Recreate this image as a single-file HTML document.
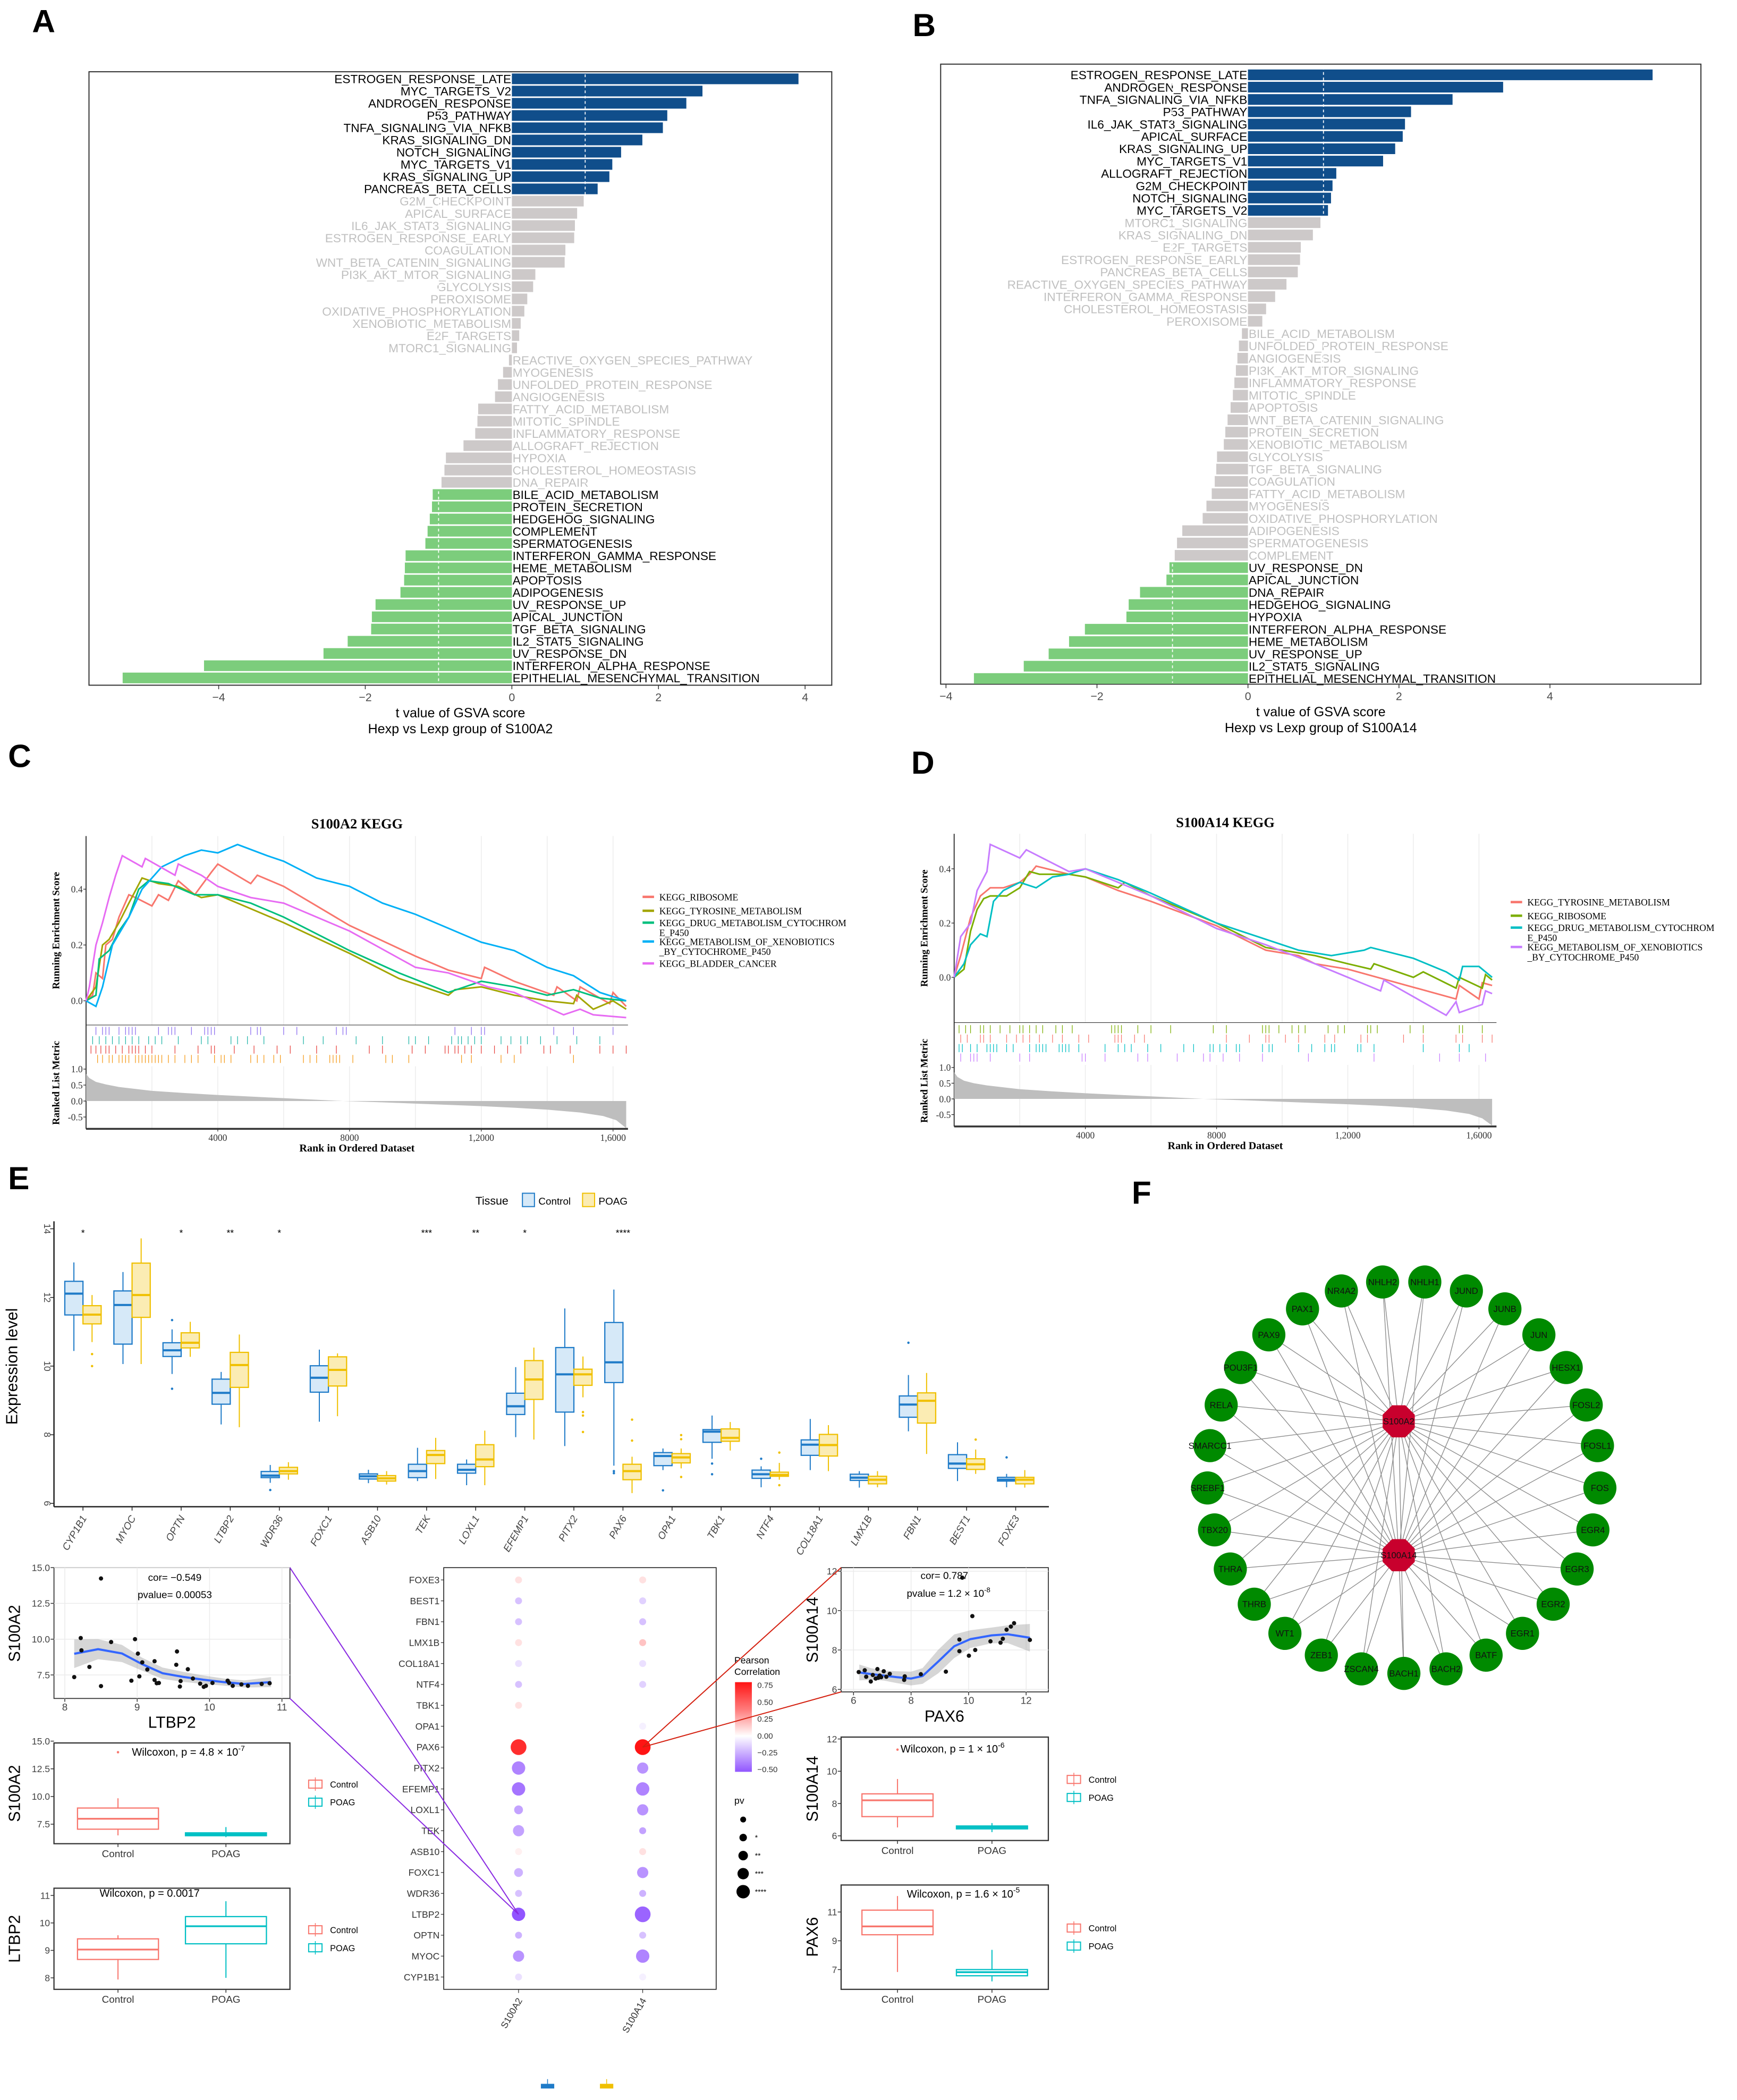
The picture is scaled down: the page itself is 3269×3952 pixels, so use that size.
<!DOCTYPE html>
<html><head><meta charset="utf-8"><title>Figure</title>
<style>
html,body{margin:0;padding:0;background:#fff;}
svg{display:block;}
text{font-family:"Liberation Sans",sans-serif;}
.serif{font-family:"Liberation Serif",serif;}
</style></head>
<body>
<svg id="fig" xmlns="http://www.w3.org/2000/svg" width="3269" height="3952" viewBox="0 0 1300 1571.6">
<rect x="0" y="0" width="1300" height="1571.6" fill="#fff"/>
</svg>
<script>
// ---------- DATA ----------
const aNames=["ESTROGEN_RESPONSE_LATE","MYC_TARGETS_V2","ANDROGEN_RESPONSE","P53_PATHWAY","TNFA_SIGNALING_VIA_NFKB","KRAS_SIGNALING_DN","NOTCH_SIGNALING","MYC_TARGETS_V1","KRAS_SIGNALING_UP","PANCREAS_BETA_CELLS","G2M_CHECKPOINT","APICAL_SURFACE","IL6_JAK_STAT3_SIGNALING","ESTROGEN_RESPONSE_EARLY","COAGULATION","WNT_BETA_CATENIN_SIGNALING","PI3K_AKT_MTOR_SIGNALING","GLYCOLYSIS","PEROXISOME","OXIDATIVE_PHOSPHORYLATION","XENOBIOTIC_METABOLISM","E2F_TARGETS","MTORC1_SIGNALING","REACTIVE_OXYGEN_SPECIES_PATHWAY","MYOGENESIS","UNFOLDED_PROTEIN_RESPONSE","ANGIOGENESIS","FATTY_ACID_METABOLISM","MITOTIC_SPINDLE","INFLAMMATORY_RESPONSE","ALLOGRAFT_REJECTION","HYPOXIA","CHOLESTEROL_HOMEOSTASIS","DNA_REPAIR","BILE_ACID_METABOLISM","PROTEIN_SECRETION","HEDGEHOG_SIGNALING","COMPLEMENT","SPERMATOGENESIS","INTERFERON_GAMMA_RESPONSE","HEME_METABOLISM","APOPTOSIS","ADIPOGENESIS","UV_RESPONSE_UP","APICAL_JUNCTION","TGF_BETA_SIGNALING","IL2_STAT5_SIGNALING","UV_RESPONSE_DN","INTERFERON_ALPHA_RESPONSE","EPITHELIAL_MESENCHYMAL_TRANSITION"];
const aVals=[3.91,2.6,2.38,2.12,2.06,1.78,1.49,1.37,1.33,1.17,0.98,0.89,0.86,0.85,0.73,0.72,0.32,0.29,0.21,0.17,0.12,0.1,0.07,-0.04,-0.12,-0.19,-0.23,-0.46,-0.47,-0.5,-0.66,-0.9,-0.92,-0.96,-1.08,-1.09,-1.12,-1.15,-1.18,-1.45,-1.46,-1.47,-1.52,-1.86,-1.91,-1.92,-2.24,-2.57,-4.2,-5.31];
const bNames=["ESTROGEN_RESPONSE_LATE","ANDROGEN_RESPONSE","TNFA_SIGNALING_VIA_NFKB","P53_PATHWAY","IL6_JAK_STAT3_SIGNALING","APICAL_SURFACE","KRAS_SIGNALING_UP","MYC_TARGETS_V1","ALLOGRAFT_REJECTION","G2M_CHECKPOINT","NOTCH_SIGNALING","MYC_TARGETS_V2","MTORC1_SIGNALING","KRAS_SIGNALING_DN","E2F_TARGETS","ESTROGEN_RESPONSE_EARLY","PANCREAS_BETA_CELLS","REACTIVE_OXYGEN_SPECIES_PATHWAY","INTERFERON_GAMMA_RESPONSE","CHOLESTEROL_HOMEOSTASIS","PEROXISOME","BILE_ACID_METABOLISM","UNFOLDED_PROTEIN_RESPONSE","ANGIOGENESIS","PI3K_AKT_MTOR_SIGNALING","INFLAMMATORY_RESPONSE","MITOTIC_SPINDLE","APOPTOSIS","WNT_BETA_CATENIN_SIGNALING","PROTEIN_SECRETION","XENOBIOTIC_METABOLISM","GLYCOLYSIS","TGF_BETA_SIGNALING","COAGULATION","FATTY_ACID_METABOLISM","MYOGENESIS","OXIDATIVE_PHOSPHORYLATION","ADIPOGENESIS","SPERMATOGENESIS","COMPLEMENT","UV_RESPONSE_DN","APICAL_JUNCTION","DNA_REPAIR","HEDGEHOG_SIGNALING","HYPOXIA","INTERFERON_ALPHA_RESPONSE","HEME_METABOLISM","UV_RESPONSE_UP","IL2_STAT5_SIGNALING","EPITHELIAL_MESENCHYMAL_TRANSITION"];
const bVals=[5.36,3.38,2.71,2.16,2.08,2.05,1.95,1.79,1.17,1.12,1.10,1.06,0.96,0.86,0.70,0.69,0.66,0.51,0.36,0.24,0.19,-0.08,-0.12,-0.14,-0.16,-0.18,-0.2,-0.23,-0.27,-0.3,-0.32,-0.41,-0.42,-0.44,-0.48,-0.55,-0.6,-0.87,-0.94,-0.97,-1.04,-1.08,-1.43,-1.58,-1.61,-2.16,-2.37,-2.64,-2.97,-3.63];
const gsvaTicks=[-4,-2,0,2,4];

// GSEA C (rank in thousands, ES)
const cRibosome=[[0,0],[0.2,0.02],[0.3,0.1],[0.5,0.08],[0.6,0.2],[0.8,0.22],[1.0,0.3],[1.3,0.38],[1.5,0.37],[2.0,0.34],[2.2,0.38],[2.5,0.36],[2.8,0.43],[3.3,0.38],[3.8,0.46],[4.0,0.49],[5.0,0.42],[5.2,0.45],[6.0,0.41],[7.0,0.34],[8.0,0.27],[10.0,0.16],[11.0,0.11],[12.0,0.08],[12.1,0.12],[13.0,0.07],[14.2,0.02],[14.3,0.05],[14.9,0.0],[15.0,0.05],[15.9,-0.01],[16.0,0.03],[16.4,-0.02]];
const cTyrosine=[[0,0],[0.3,0.05],[0.5,0.2],[0.7,0.22],[1.0,0.28],[1.3,0.35],[1.7,0.44],[2.2,0.42],[2.8,0.41],[3.5,0.37],[4.0,0.38],[5.0,0.33],[6.0,0.28],[8.0,0.17],[9.5,0.08],[11.0,0.02],[11.2,0.04],[12.0,0.05],[13.0,0.02],[14.0,0.0],[14.8,-0.01],[14.9,0.02],[15.4,-0.03],[16.0,0.0],[16.4,-0.03]];
const cDrug=[[0,0],[0.3,0.02],[0.4,0.15],[0.7,0.18],[1.0,0.25],[1.3,0.3],[1.6,0.4],[1.9,0.43],[2.5,0.42],[3.3,0.38],[4.0,0.38],[5.0,0.35],[6.0,0.3],[8.0,0.18],[9.5,0.1],[11.0,0.03],[12.0,0.07],[13.0,0.05],[14.0,0.02],[14.8,0.04],[15.6,0.01],[16.4,0.0]];
const cXeno=[[0,0],[0.3,-0.02],[0.5,0.05],[0.8,0.2],[1.3,0.3],[1.7,0.4],[2.3,0.48],[3.0,0.52],[3.5,0.54],[4.0,0.53],[4.6,0.56],[5.5,0.52],[6.0,0.5],[7.0,0.44],[8.0,0.41],[9.0,0.35],[10.0,0.31],[11.0,0.26],[12.0,0.21],[13.0,0.18],[14.0,0.12],[14.8,0.09],[15.6,0.03],[16.4,0.0]];
const cBladder=[[0,0],[0.1,0.05],[0.3,0.2],[0.5,0.28],[0.7,0.37],[0.9,0.45],[1.1,0.52],[1.7,0.48],[1.8,0.51],[2.7,0.45],[2.8,0.49],[3.5,0.45],[4.0,0.41],[5.0,0.37],[6.0,0.35],[8.0,0.25],[10.0,0.12],[11.0,0.1],[12.2,0.05],[13.0,0.03],[14.5,-0.05],[15.0,-0.03],[15.4,-0.05],[16.4,-0.06]];
const cRugBladder=[0.3,0.5,0.6,0.7,1.0,1.2,1.3,1.4,1.5,2.2,2.5,2.6,2.7,3.2,3.6,3.7,3.8,3.9,5.0,5.2,5.3,6.0,6.4,7.6,7.8,7.9,11.2,11.7,12.0,12.1,14.2,14.8,16.0];
const cRugXeno=[0.2,0.4,0.6,0.8,1.0,1.2,1.4,1.6,1.9,2.1,2.3,2.8,3.5,3.7,4.4,4.6,4.9,5.4,6.6,7.2,8.2,9.0,9.8,10.0,10.4,11.1,11.3,11.4,11.6,11.8,12.0,12.6,12.9,13.2,13.4,13.8,14.3,14.9,15.6];
const cRugRibo=[0.15,0.3,0.45,0.6,0.7,0.9,1.1,1.3,1.4,1.5,1.6,1.8,2.0,2.7,3.4,3.8,3.9,4.5,5.1,5.8,6.2,7.0,7.6,8.6,9.0,9.9,10.3,10.9,11.0,11.2,11.3,11.5,11.7,12.0,12.4,12.8,13.2,13.9,14.1,14.7,15.6,16.0,16.4];
const cRugTyro=[0.35,0.5,0.7,0.8,1.0,1.1,1.2,1.3,1.5,1.6,1.7,1.8,1.9,2.0,2.1,2.2,2.3,2.5,2.7,3.0,3.2,3.4,3.9,4.1,4.2,4.4,5.0,5.2,5.4,5.7,5.9,6.6,6.8,7.0,7.4,7.5,7.6,7.7,8.1,9.1,9.3,9.8,11.4,11.7,12.6,13.0,14.8];
const cMetric=[[0,0.85],[0.1,0.72],[0.3,0.6],[0.6,0.52],[1,0.44],[2,0.32],[3,0.25],[4,0.19],[5,0.14],[6,0.09],[7,0.04],[7.8,0],[9,-0.04],[10,-0.08],[11,-0.12],[12,-0.16],[13,-0.21],[14,-0.27],[15,-0.36],[15.7,-0.47],[16.1,-0.6],[16.4,-0.85]];
// GSEA D
const dTyrosine=[[0,0],[0.2,0.08],[0.5,0.22],[0.8,0.3],[1.1,0.33],[1.5,0.33],[2.0,0.35],[2.3,0.38],[2.5,0.41],[3.5,0.38],[4.0,0.37],[5.0,0.32],[6.0,0.28],[8.0,0.19],[9.5,0.1],[10.5,0.08],[11.0,0.05],[12.0,0.03],[13.5,-0.02],[15.3,-0.08],[15.4,-0.03],[16.0,-0.08],[16.1,-0.02],[16.4,-0.03]];
const dRibosome=[[0,0],[0.3,0.03],[0.5,0.17],[0.7,0.25],[0.9,0.29],[1.1,0.3],[1.6,0.3],[2.0,0.33],[2.3,0.39],[2.6,0.38],[3.5,0.38],[4.0,0.37],[5.0,0.33],[5.2,0.35],[6.0,0.3],[8.0,0.2],[9.5,0.11],[11.0,0.08],[12.0,0.05],[12.7,0.03],[12.8,0.05],[14.0,0.0],[14.3,0.02],[15.3,-0.04],[15.4,0.0],[16.1,-0.04],[16.2,0.01],[16.4,-0.01]];
const dDrug=[[0,0],[0.3,0.05],[0.5,0.12],[0.8,0.16],[1.0,0.15],[1.2,0.28],[1.5,0.32],[2.0,0.35],[2.5,0.33],[3.0,0.37],[3.5,0.38],[4.0,0.4],[5.0,0.36],[6.0,0.31],[8.0,0.2],[9.5,0.14],[10.5,0.1],[11.5,0.08],[12.5,0.1],[12.7,0.11],[14.0,0.07],[15.0,0.02],[15.4,-0.01],[15.5,0.04],[16.0,0.04],[16.4,0.0]];
const dXeno=[[0,0],[0.2,0.15],[0.5,0.2],[0.7,0.32],[1.0,0.39],[1.1,0.49],[2.0,0.44],[2.2,0.47],[3.5,0.39],[4.0,0.4],[5.0,0.35],[6.0,0.3],[8.0,0.18],[9.5,0.12],[11.0,0.05],[13.0,-0.05],[13.1,-0.01],[15.0,-0.14],[15.3,-0.09],[15.4,-0.13],[16.1,-0.1],[16.2,-0.05],[16.4,-0.06]];
const dRugRibo=[0.15,0.35,0.5,0.8,0.9,1.1,1.4,1.7,2.0,2.1,2.3,2.5,2.7,3.1,3.3,3.6,4.8,4.9,5.0,5.1,5.6,6.0,6.6,7.9,8.3,9.4,9.5,9.6,9.9,10.3,10.5,10.7,11.4,11.7,11.9,12.6,12.7,12.9,13.9,14.3,15.4,15.5,16.1];
const dRugTyro=[0.2,0.4,0.8,0.9,1.1,1.6,1.9,2.1,2.3,2.6,3.0,3.3,3.8,4.1,4.9,5.0,5.1,5.5,5.8,8.3,9.0,9.5,9.6,10.1,10.5,11.3,11.6,12.4,12.6,13.7,14.3,15.3,15.5,16.1,16.4];
const dRugDrug=[0.15,0.25,0.5,0.7,1.0,1.1,1.2,1.3,1.6,1.8,2.3,2.5,2.6,2.7,2.8,3.2,3.3,3.4,3.5,3.8,4.6,5.0,5.2,5.4,5.9,6.3,7.0,7.3,7.8,7.9,8.1,8.3,8.6,8.7,9.4,9.6,9.7,10.5,10.9,11.3,11.5,11.6,12.3,12.4,12.8,14.3,15.4,15.7];
const dRugXeno=[0.2,0.5,0.6,0.7,1.1,2.0,2.3,3.9,4.0,4.6,5.6,5.9,6.8,7.6,7.8,8.2,8.7,9.4,10.8,12.8,14.8,15.4,16.2];
const dMetric=[[0,0.85],[0.1,0.7],[0.3,0.58],[0.6,0.5],[1,0.43],[2,0.31],[3,0.24],[4,0.18],[5,0.13],[6,0.08],[7,0.03],[7.6,0],[9,-0.05],[10,-0.09],[11,-0.13],[12,-0.17],[13,-0.22],[14,-0.28],[15,-0.37],[15.7,-0.48],[16.1,-0.62],[16.4,-0.85]];
const rankTicks=[4,8,12,16];
const rankTickLabels=["4000","8000","1,2000","1,6000"];

// E boxplots [low, q1, median, q3, high]
const eGenes=["CYP1B1","MYOC","OPTN","LTBP2","WDR36","FOXC1","ASB10","TEK","LOXL1","EFEMP1","PITX2","PAX6","OPA1","TBK1","NTF4","COL18A1","LMX1B","FBN1","BEST1","FOXE3"];
const eCtrl=[[10.44,11.49,12.11,12.47,13.02],[10.06,10.64,11.78,12.19,12.74],[9.77,10.28,10.46,10.68,11.07],[8.3,8.89,9.22,9.62,9.83],[6.6,6.75,6.81,6.93,7.12],[8.38,9.24,9.66,10.01,10.48],[6.59,6.71,6.79,6.86,6.98],[6.65,6.75,6.94,7.14,7.62],[6.53,6.88,6.98,7.14,7.28],[7.93,8.59,8.83,9.21,9.97],[7.67,8.66,9.76,10.54,11.68],[7.1,9.52,10.11,11.27,12.23],[6.97,7.1,7.38,7.48,7.6],[7.3,7.78,8.09,8.15,8.56],[6.47,6.73,6.85,6.97,7.08],[6.97,7.4,7.71,7.85,8.46],[6.46,6.67,6.75,6.85,6.94],[8.1,8.51,8.88,9.13,9.74],[6.65,7.02,7.16,7.42,7.78],[6.47,6.65,6.69,6.76,6.86]];
const ePoag=[[10.7,11.23,11.5,11.76,12.07],[10.06,11.42,12.07,13.0,13.72],[10.27,10.53,10.68,10.97,11.29],[8.22,9.38,10.03,10.4,10.92],[6.69,6.86,6.94,7.05,7.2],[8.54,9.42,9.89,10.27,10.37],[6.55,6.65,6.73,6.81,6.94],[6.71,7.16,7.41,7.54,7.91],[6.53,7.07,7.28,7.71,8.12],[7.86,9.03,9.61,10.16,10.54],[9.09,9.44,9.76,9.91,10.28],[6.3,6.69,6.94,7.14,7.36],[7.02,7.18,7.34,7.45,7.6],[7.54,7.81,7.91,8.17,8.37],[6.69,6.79,6.83,6.91,7.18],[6.94,7.38,7.7,8.01,8.28],[6.47,6.57,6.69,6.79,6.94],[7.44,8.34,8.99,9.22,9.8],[6.86,6.99,7.14,7.3,7.57],[6.46,6.57,6.69,6.76,6.97]];
const eCtrlOut=[[],[],[11.34,9.34],[],[6.39],[],[],[],[],[],[],[6.94,6.88],[6.38],[7.16,6.85],[7.3],[],[],[10.68],[],[7.34]];
const ePoagOut=[[10.35,10.0],[],[],[],[],[],[],[],[],[],[8.66,8.56,8.08],[8.44,7.83],[7.99,7.87,6.77],[],[7.48,6.53],[],[],[],[7.86],[]];
const eStars=["*","","*","**","*","","","***","**","*","","****","","","","","","","",""];
const eTicks=[6,8,10,12,14];

// scatter S100A2 ~ LTBP2
const ltbp2X=[8.5,8.13,8.22,8.23,8.34,8.5,8.64,8.92,8.97,9.01,9.03,9.07,9.14,9.24,9.24,9.27,9.3,9.55,9.54,9.59,9.6,9.7,9.77,9.87,9.92,9.95,10.04,10.25,10.27,10.32,10.44,10.53,10.72,10.83];
const s100a2Y=[14.24,7.35,10.08,9.22,8.06,6.72,9.8,7.1,10.0,8.99,7.4,8.38,7.88,8.46,7.15,6.92,6.94,9.14,8.21,6.69,7.07,7.9,7.25,6.89,6.67,6.74,6.94,7.1,6.94,6.74,6.84,6.74,6.87,6.92];
const fitAX=[8.13,8.46,8.79,9.07,9.35,9.63,9.91,10.2,10.48,10.85];
const fitAY=[8.98,9.3,9.0,8.25,7.62,7.37,7.17,7.0,6.87,7.0];
const fitASE=[1.0,0.7,0.6,0.45,0.4,0.35,0.3,0.25,0.25,0.35];
// scatter S100A14 ~ PAX6
const pax6X=[6.18,6.39,6.44,6.6,6.67,6.77,6.83,6.86,6.91,6.96,7.05,7.14,7.26,7.76,7.78,8.34,9.21,9.68,9.68,9.78,10.01,10.13,10.23,10.76,11.11,11.19,11.32,11.47,11.58,12.13];
const s100a14Y=[6.88,6.97,6.64,6.4,6.73,6.55,7.03,6.59,6.7,6.62,6.92,6.64,6.79,6.48,6.66,6.77,6.9,8.53,7.94,11.67,7.71,9.72,8.0,8.44,8.37,8.57,9.03,9.19,9.36,8.51];
const fitBX=[6.2,6.6,7.05,7.5,8.0,8.4,8.95,9.5,10.06,10.8,11.36,12.13];
const fitBY=[6.86,6.78,6.7,6.62,6.55,6.68,7.42,8.19,8.55,8.74,8.8,8.62];
const fitBSE=[0.4,0.3,0.25,0.3,0.35,0.4,0.6,0.6,0.45,0.4,0.45,0.7];
// wilcoxon boxes [low,q1,med,q3,high]
const bxS100A2=[[6.49,7.05,7.99,8.96,9.84],[6.33,6.46,6.59,6.72,7.24]];
const bxLTBP2=[[7.94,8.67,9.03,9.42,9.55],[8.0,9.24,9.88,10.23,10.79]];
const bxS100A14=[[6.52,7.19,8.2,8.6,9.52],[6.23,6.43,6.52,6.61,6.79]];
const bxPAX6=[[6.83,9.42,10.0,11.13,12.11],[6.18,6.57,6.82,7.0,8.37]];
// dot plot correlation
const dotGenes=["FOXE3","BEST1","FBN1","LMX1B","COL18A1","NTF4","TBK1","OPA1","PAX6","PITX2","EFEMP1","LOXL1","TEK","ASB10","FOXC1","WDR36","LTBP2","OPTN","MYOC","CYP1B1"];
const corA2=[0.1,-0.2,-0.2,0.1,-0.1,-0.2,0.1,0.0,0.7,-0.4,-0.45,-0.3,-0.3,0.05,-0.25,-0.2,-0.55,-0.25,-0.35,-0.1];
const pvA2=[0,0,0,0,0,0,0,0,4,3,3,1,2,0,1,0,3,0,2,0];
const corA14=[0.1,-0.15,-0.2,0.2,-0.1,-0.15,0.0,-0.05,0.787,-0.35,-0.4,-0.35,-0.3,0.1,-0.35,-0.25,-0.5,-0.2,-0.4,-0.05];
const pvA14=[0,0,0,0,0,0,0,0,4,2,3,2,0,0,2,0,4,0,3,0];
// network
const tfNames=["NHLH2","NHLH1","JUND","JUNB","JUN","HESX1","FOSL2","FOSL1","FOS","EGR4","EGR3","EGR2","EGR1","BATF","BACH2","BACH1","ZSCAN4","ZEB1","WT1","THRB","THRA","TBX20","SREBF1","SMARCC1","RELA","POU3F1","PAX9","PAX1","NR4A2"];

// ---------- HELPERS ----------
const NS="http://www.w3.org/2000/svg";
const svg=document.getElementById("fig");
function mk(parent,tag,attrs,name,text){
  const el=document.createElementNS(NS,tag);
  for(const k in attrs) el.setAttribute(k,attrs[k]);
  
  
  if(text!==undefined) el.textContent=text;
  parent.appendChild(el);
  return el;
}
function grp(name,parent){return mk(parent||svg,"g",{},name);}
function txt(p,x,y,s,size,name,o){
  o=o||{};
  const a={x:x,y:y,"font-size":size,fill:o.fill||"#000","text-anchor":o.anchor||"start"};
  if(o.weight)a["font-weight"]=o.weight;
  if(o.cls)a["class"]=o.cls;
  if(o.rot!==undefined)a.transform="rotate("+o.rot+" "+x+" "+y+")";
  if(o.style)a.style=o.style;
  return mk(p,"text",a,name,s);
}
function line(p,x1,y1,x2,y2,stroke,w,name,dash){
  const a={x1:x1,y1:y1,x2:x2,y2:y2,stroke:stroke,"stroke-width":w};
  if(dash)a["stroke-dasharray"]=dash;
  return mk(p,"line",a,name);
}
function sup(p,x,y,base,exp,size,name,anchor){
  const t=txt(p,x,y,"",size,name,{anchor:anchor||"middle"});
  const s1=document.createElementNS(NS,"tspan");s1.textContent=base;t.appendChild(s1);
  const s2=document.createElementNS(NS,"tspan");s2.textContent=exp;s2.setAttribute("dy",-size*0.45);s2.setAttribute("font-size",size*0.7);t.appendChild(s2);
  return t;
}

// panel letters
[["A",32,24],["B",691,27],["C",14,574],["D",690,579],["E",14,890],["F",855,901]].forEach(l=>{
  txt(svg,l[1]-8,l[2],l[0],24,"panel-label-"+l[0].toLowerCase(),{weight:"bold"});
});

// ---------- GSVA bar panels ----------
function gsva(name,names,vals,box,x0,kx,r0,rstep,titleLines){
  const g=grp(name);
  const xs=v=>x0+v*kx;
  mk(g,"rect",{x:box[0],y:box[1],width:box[2]-box[0],height:box[3]-box[1],fill:"#fff",stroke:"#333","stroke-width":0.8},"plot-border");
  names.forEach((n,i)=>{
    const v=vals[i], y=r0+i*rstep;
    const col=v>1?"#104e8b":(v<-1?"#7ccd7c":"#cdc9c9");
    const x1=Math.min(xs(0),xs(v)), w=Math.abs(xs(v)-xs(0));
    mk(g,"rect",{x:x1,y:y-4,width:w,height:8,fill:col},"bar-"+n.toLowerCase().replace(/_/g,"-"));
    const tc=(v>1||v<-1)?"#000":"#c0c0c0";
    if(v>=0) txt(g,xs(0)-0.5,y+3.3,n,9,"bar-label",{anchor:"end",fill:tc});
    else txt(g,xs(0)+0.5,y+3.3,n,9,"bar-label",{fill:tc});
  });
  line(g,xs(1),box[1]+2,xs(1),box[3]-1,"#fff",0.7,"threshold-line-pos","2,2");
  line(g,xs(-1),box[1]+2,xs(-1),box[3]-1,"#fff",0.7,"threshold-line-neg","2,2");
  gsvaTicks.forEach(t=>{
    line(g,xs(t),box[3],xs(t),box[3]+3,"#333",0.6,"x-tick");
    txt(g,xs(t),box[3]+12,t<0?"\u2212"+(-t):String(t),8.5,"x-tick-label",{anchor:"middle",fill:"#4d4d4d"});
  });
  txt(g,(box[0]+box[2])/2,box[3]+24,titleLines[0],10,"x-axis-title",{anchor:"middle"});
  txt(g,(box[0]+box[2])/2,box[3]+36,titleLines[1],10,"x-axis-subtitle",{anchor:"middle"});
}
gsva("panel-a-gsva",aNames,aVals,[66.6,53.7,622.5,512.8],383.1,54.86,59,9.15,["t value of GSVA score","Hexp vs Lexp group of S100A2"]);
gsva("panel-b-gsva",bNames,bVals,[704,48,1273,512],934,56.5,56,9.22,["t value of GSVA score","Hexp vs Lexp group of S100A14"]);

// ---------- GSEA panels ----------
function gsea(name,P,curves,cols,labels,rugs,rugCols,metric){
  const g=grp(name);
  const xs=r=>P.x0+r*P.kx, ys=e=>P.y0-e*P.ky, ym=m=>P.mZero-m*P.mk;
  txt(g,(P.x0+P.right)/2,P.titleY,P.title,10.5,"chart-title",{anchor:"middle",weight:"bold",cls:"serif"});
  for(let r=2;r<=16;r+=2){
    line(g,xs(r),P.top,xs(r),P.esBot,"#ececec",0.6,"grid-line");
    line(g,xs(r),P.mTop,xs(r),P.mBot,"#ececec",0.6,"grid-line");
  }
  line(g,P.x0,P.top,P.x0,P.mBot,"#222",0.7,"y-axis-line");
  line(g,P.x0,P.esBot,P.right,P.esBot,"#222",0.4,"es-panel-bottom");
  [0,0.2,0.4].forEach(t=>{
    line(g,P.x0-2,ys(t),P.x0,ys(t),"#222",0.5,"y-tick");
    txt(g,P.x0-2.5,ys(t)+2.5,t.toFixed(1),7,"y-tick-label",{anchor:"end",cls:"serif",fill:"#333"});
  });
  curves.forEach((c,k)=>{
    const pts=c.map(p=>xs(p[0]).toFixed(2)+","+ys(p[1]).toFixed(2)).join(" ");
    mk(g,"polyline",{points:pts,fill:"none",stroke:cols[k],"stroke-width":1.2},"es-curve-"+k);
  });
  const bandH=(P.rugBot-P.rugTop)/rugs.length;
  rugs.forEach((rg,k)=>{
    rg.forEach(r=>line(g,xs(r),P.rugTop+k*bandH+0.5,xs(r),P.rugTop+(k+1)*bandH-0.5,rugCols[k],0.5,"rug-tick"));
  });
  let poly=xs(metric[0][0])+","+ym(0)+" ";
  poly+=metric.map(p=>xs(p[0]).toFixed(2)+","+ym(p[1]).toFixed(2)).join(" ");
  poly+=" "+xs(metric[metric.length-1][0])+","+ym(0);
  mk(g,"polygon",{points:poly,fill:"#bebebe"},"ranked-metric-area");
  [1.0,0.5,0.0,-0.5].forEach(t=>{
    line(g,P.x0-2,ym(t),P.x0,ym(t),"#222",0.5,"metric-tick");
    txt(g,P.x0-2.5,ym(t)+2.5,t.toFixed(1),7,"metric-tick-label",{anchor:"end",cls:"serif",fill:"#333"});
  });
  line(g,P.x0,P.mBot,P.right,P.mBot,"#333",1.4,"x-axis-line");
  rankTicks.forEach((r,i)=>{
    line(g,xs(r),P.mBot,xs(r),P.mBot+2,"#333",0.5,"x-tick");
    txt(g,xs(r),P.mBot+9,rankTickLabels[i],7,"x-tick-label",{anchor:"middle",cls:"serif",fill:"#333"});
  });
  txt(g,(P.x0+P.right)/2,P.mBot+17,"Rank in Ordered Dataset",8,"x-axis-title",{anchor:"middle",weight:"bold",cls:"serif"});
  txt(g,P.x0-20,(P.top+P.esBot)/2,"Running Enrichment Score",7.5,"y-axis-title",{anchor:"middle",weight:"bold",cls:"serif",rot:-90});
  txt(g,P.x0-20,(P.rugTop+P.mBot)/2+4,"Ranked List Metric",7.5,"metric-axis-title",{anchor:"middle",weight:"bold",cls:"serif",rot:-90});
  labels.forEach((L,k)=>{
    mk(g,"rect",{x:P.lx,y:L[1]-1,width:8.6,height:1.8,fill:cols[k]},"legend-key");
    txt(g,P.lx+12.5,L[1]+2.5,L[0][0],7,"legend-entry",{cls:"serif"});
    if(L[0][1]) txt(g,P.lx+12.5,L[1]+10,L[0][1],7,"legend-entry",{cls:"serif"});
  });
}
gsea("panel-c-gsea",{x0:64.4,kx:24.65,right:470,top:625.7,esBot:767.1,y0:749,ky:208.9,rugTop:768,rugBot:796,mTop:798,mBot:844.8,mZero:824,mk:23.9,titleY:620,title:"S100A2 KEGG",lx:480.9},
  [cRibosome,cTyrosine,cDrug,cXeno,cBladder],["#f8766d","#a3a500","#00bf7d","#00b0f6","#e76bf3"],
  [[["KEGG_RIBOSOME"],671.3],[["KEGG_TYROSINE_METABOLISM"],681.7],[["KEGG_DRUG_METABOLISM_CYTOCHROM","E_P450"],690.6],[["KEGG_METABOLISM_OF_XENOBIOTICS","_BY_CYTOCHROME_P450"],704.7],[["KEGG_BLADDER_CANCER"],721.1]],
  [cRugBladder,cRugXeno,cRugRibo,cRugTyro],["#8b6cf0","#20b5a8","#e8413c","#f59a17"],cMetric);
gsea("panel-d-gsea",{x0:714.1,kx:24.55,right:1120,top:624,esBot:765.3,y0:731.4,ky:203,rugTop:766.7,rugBot:795,mTop:797,mBot:843,mZero:822.4,mk:23.5,titleY:619,title:"S100A14 KEGG",lx:1130.6},
  [dTyrosine,dRibosome,dDrug,dXeno],["#f8766d","#7cae00","#00bfc4","#c77cff"],
  [[["KEGG_TYROSINE_METABOLISM"],675.2],[["KEGG_RIBOSOME"],685.4],[["KEGG_DRUG_METABOLISM_CYTOCHROM","E_P450"],694.3],[["KEGG_METABOLISM_OF_XENOBIOTICS","_BY_CYTOCHROME_P450"],708.8]],
  [dRugRibo,dRugTyro,dRugDrug,dRugXeno],["#7cae00","#f8766d","#00bfc4","#c77cff"],dMetric);

// ---------- E top boxplot ----------
(function(){
  const g=grp("panel-e-expression-boxplot");
  const yE=v=>919.6+(14-v)*25.69, xE=i=>62.1+i*36.74, bw=13.6;
  txt(g,355.8,901.5,"Tissue",8.5,"legend-title");
  mk(g,"rect",{x:391,y:893,width:9,height:10,fill:"#d6e9f8",stroke:"#1f7bc8","stroke-width":0.8},"legend-key-control");
  txt(g,403,901.5,"Control",7.5,"legend-entry-control");
  mk(g,"rect",{x:436,y:893,width:9,height:10,fill:"#fbecb3",stroke:"#f0c000","stroke-width":0.8},"legend-key-poag");
  txt(g,448,901.5,"POAG",7.5,"legend-entry-poag");
  line(g,40.4,914,40.4,1127.6,"#222",1,"y-axis-line");
  line(g,40.4,1127.6,785,1127.6,"#222",1,"x-axis-line");
  eTicks.forEach(t=>{
    line(g,37.5,yE(t),40.4,yE(t),"#222",0.6,"y-tick");
    txt(g,33,yE(t),String(t),7,"y-tick-label",{anchor:"middle",rot:90,fill:"#444"});
  });
  txt(g,13,1022.6,"Expression level",12,"y-axis-title",{anchor:"middle",rot:-90});
  function box(s,x,stroke,fill,name){
    line(g,x+bw/2,yE(s[4]),x+bw/2,yE(s[3]),stroke,0.8,name+"-whisker");
    line(g,x+bw/2,yE(s[1]),x+bw/2,yE(s[0]),stroke,0.8,name+"-whisker");
    mk(g,"rect",{x:x,y:yE(s[3]),width:bw,height:yE(s[1])-yE(s[3]),fill:fill,stroke:stroke,"stroke-width":0.9},name+"-box");
    line(g,x,yE(s[2]),x+bw,yE(s[2]),stroke,1.6,name+"-median");
  }
  eGenes.forEach((gn,i)=>{
    const c=xE(i);
    box(eCtrl[i],c-bw,"#1f7bc8","#d6e9f8","box-control-"+gn.toLowerCase());
    box(ePoag[i],c,"#f0c000","#fbecb3","box-poag-"+gn.toLowerCase());
    eCtrlOut[i].forEach(v=>mk(g,"circle",{cx:c-bw/2,cy:yE(v),r:0.9,fill:"#1f7bc8"},"outlier"));
    ePoagOut[i].forEach(v=>mk(g,"circle",{cx:c+bw/2,cy:yE(v),r:0.9,fill:"#f0c000"},"outlier"));
    if(eStars[i]) txt(g,c,925,eStars[i],7,"significance-stars",{anchor:"middle"});
    line(g,c,1127.6,c,1130.5,"#222",0.6,"x-tick");
    txt(g,c+3,1136,gn,7.5,"x-tick-label",{anchor:"end",rot:-60,fill:"#444",style:"font-style:italic"});
  });
})();

// ---------- E scatter S100A2 vs LTBP2 ----------
function scatter(name,B,xr,yr,xt,yt,xs,ys,fx,fy,fse,texts,xlab,ylab){
  const g=grp(name);
  const X=v=>B.x0+(v-xr[0])*B.kx, Y=v=>B.y0-(v-yr[0])*B.ky;
  mk(g,"rect",{x:B.l,y:B.t,width:B.r-B.l,height:B.b-B.t,fill:"#fff",stroke:"#333","stroke-width":0.7},"plot-panel");
  xt.forEach(t=>{line(g,X(t),B.t,X(t),B.b,"#ebebeb",0.6,"grid-line");
    line(g,X(t),B.b,X(t),B.b+2.5,"#333",0.6,"x-tick");
    txt(g,X(t),B.b+9,String(t),7.5,"x-tick-label",{anchor:"middle",fill:"#444"});});
  yt.forEach(t=>{line(g,B.l,Y(t),B.r,Y(t),"#ebebeb",0.6,"grid-line");
    line(g,B.l-2.5,Y(t),B.l,Y(t),"#333",0.6,"y-tick");
    txt(g,B.l-3,Y(t)+2.5,typeof t==="number"&&name.indexOf("a2")>0?t.toFixed(1):String(t),7,"y-tick-label",{anchor:"end",fill:"#444"});});
  let up=fx.map((x,i)=>X(x).toFixed(2)+","+Y(fy[i]+fse[i]).toFixed(2));
  let dn=fx.map((x,i)=>X(x).toFixed(2)+","+Y(fy[i]-fse[i]).toFixed(2)).reverse();
  mk(g,"polygon",{points:up.concat(dn).join(" "),fill:"#999","fill-opacity":0.4},"confidence-band");
  mk(g,"polyline",{points:fx.map((x,i)=>X(x).toFixed(2)+","+Y(fy[i]).toFixed(2)).join(" "),fill:"none",stroke:"#3366ff","stroke-width":1.6},"loess-fit");
  xs.forEach((x,i)=>mk(g,"circle",{cx:X(x),cy:Y(ys[i]),r:1.6,fill:"#111"},"point"));
  texts.forEach(T=>{ if(T.exp) sup(g,T.x,T.y,T.s,T.exp,7.5,"annotation"); else txt(g,T.x,T.y,T.s,7.5,"annotation",{anchor:"middle"}); });
  txt(g,xlab[1],xlab[2],xlab[0],12,"x-axis-title",{anchor:"middle"});
  txt(g,ylab[1],ylab[2],ylab[0],12,"y-axis-title",{anchor:"middle",rot:-90});
}
scatter("scatter-s100a2-ltbp2",{l:40.4,r:217,t:1173.2,b:1271.1,x0:48.5,kx:54.17,y0:1253.5,ky:10.71},[8,0],[7.5,0],[8,9,10,11],[7.5,10.0,12.5,15.0],
  ltbp2X,s100a2Y,fitAX,fitAY,fitASE,[{x:130.8,y:1183,s:"cor= \u22120.549"},{x:130.8,y:1196,s:"pvalue= 0.00053"}],["LTBP2",128.7,1293],["S100A2",15,1222.4]);
scatter("scatter-s100a14-pax6",{l:629.5,r:784.6,t:1173.2,b:1266.2,x0:638.8,kx:21.53,y0:1264.3,ky:14.74},[6,0],[6,0],[6,8,10,12],[6,8,10,12],
  pax6X,s100a14Y,fitBX,fitBY,fitBSE,[{x:706.8,y:1181.6,s:"cor= 0.787"},{x:709.9,y:1195,s:"pvalue = 1.2 \u00d7 10",exp:"-8"}],["PAX6",706.8,1288.5],["S100A14",612,1219.7]);

// ---------- Wilcoxon boxplots ----------
function wbox(name,B,ymin,ky,yt,stats,ptxt,pexp,ylab,legY,legX,fmt){
  const g=grp(name);
  const Y=v=>B.y0-(v-ymin)*ky;
  mk(g,"rect",{x:B.l,y:B.t,width:B.r-B.l,height:B.b-B.t,fill:"#fff",stroke:"#333","stroke-width":0.9},"plot-panel");
  yt.forEach(t=>{line(g,B.l-2.5,Y(t),B.l,Y(t),"#333",0.6,"y-tick");
    txt(g,B.l-3,Y(t)+2.5,fmt?t.toFixed(1):String(t),7,"y-tick-label",{anchor:"end",fill:"#444"});});
  const cols=["#f8766d","#00bfc4"], cx=[B.c1,B.c2];
  ["Control","POAG"].forEach((nm,k)=>{
    const s=stats[k], x=cx[k];
    line(g,x,Y(s[4]),x,Y(s[3]),cols[k],0.8,"whisker");
    line(g,x,Y(s[1]),x,Y(s[0]),cols[k],0.8,"whisker");
    mk(g,"rect",{x:x-B.hw,y:Y(s[3]),width:2*B.hw,height:Math.max(1.5,Y(s[1])-Y(s[3])),fill:"none",stroke:cols[k],"stroke-width":0.9},"box-"+nm.toLowerCase());
    line(g,x-B.hw,Y(s[2]),x+B.hw,Y(s[2]),cols[k],1.3,"median-"+nm.toLowerCase());
    line(g,x,B.b,x,B.b+2.5,"#333",0.6,"x-tick");
    txt(g,x,B.b+10,nm,7.5,"x-tick-label",{anchor:"middle",fill:"#333"});
  });
  sup(g,B.tx,B.ty,ptxt,pexp,8,"wilcoxon-annotation");
  txt(g,ylab[1],ylab[2],ylab[0],12,"y-axis-title",{anchor:"middle",rot:-90});
  ["Control","POAG"].forEach((nm,k)=>{
    mk(g,"rect",{x:legX,y:legY[k]-3,width:10,height:6,fill:"none",stroke:cols[k],"stroke-width":0.8},"legend-key-"+nm.toLowerCase());
    line(g,legX+5,legY[k]-5,legX+5,legY[k]+5,cols[k],0.6,"legend-key-whisker");
    txt(g,legX+16,legY[k]+2.5,nm,6.5,"legend-entry-"+nm.toLowerCase());
  });
}
wbox("boxplot-s100a2",{l:40.4,r:217,t:1304.4,b:1379.8,y0:1365.2,c1:88.3,c2:169.1,hw:30.3,tx:141,ty:1314},7.5,8.29,[7.5,10.0,12.5,15.0],bxS100A2,"Wilcoxon, p = 4.8 \u00d7 10","-7",["S100A2",15,1342.2],[1335.2,1348.7],231,true);
wbox("boxplot-ltbp2",{l:40.4,r:217,t:1413.1,b:1488.8,y0:1480.2,c1:88.3,c2:169.1,hw:30.3,tx:112,ty:1419.5},8,20.56,[8,9,10,11],bxLTBP2,"Wilcoxon, p = 0.0017","",["LTBP2",15,1451],[1444.2,1457.7],231,false);
wbox("boxplot-s100a14",{l:629.5,r:784.6,t:1300,b:1377.4,y0:1373.9,c1:671.7,c2:742.4,hw:26.6,tx:712.9,ty:1311.5},6,12.08,[6,8,10,12],bxS100A14,"Wilcoxon, p = 1 \u00d7 10","-6",["S100A14",612,1338.7],[1331.7,1345.2],798.7,false);
wbox("boxplot-pax6",{l:629.5,r:784.6,t:1410.7,b:1488.8,y0:1474,c1:671.7,c2:742.4,hw:26.6,tx:721,ty:1420},7,10.77,[7,9,11],bxPAX6,"Wilcoxon, p = 1.6 \u00d7 10","-5",["PAX6",612,1449.6],[1442.9,1456.4],798.7,false);
(function(){const g=grp("outlier-points");
  mk(g,"circle",{cx:88.3,cy:1365.2-(14.0-7.5)*8.29,r:0.9,fill:"#f8766d"},"outlier");
  mk(g,"circle",{cx:671.7,cy:1373.9-(11.34-6)*12.08,r:0.9,fill:"#f8766d"},"outlier");})();

// ---------- dot plot ----------
(function(){
  const g=grp("correlation-dot-plot");
  const rowY=i=>1182.4+i*15.64, colX=[388.1,481];
  const rad=[2.6,3.3,4.2,5.0,5.9];
  function col(c){ if(c>=0){const t=Math.min(1,c/0.787);return "rgb(255,"+Math.round(255*(1-t)+20*t)+","+Math.round(255*(1-t)+20*t)+")";}
    const t=Math.min(1,-c/0.55);return "rgb("+Math.round(255-110*t)+","+Math.round(255-170*t)+",255)";}
  mk(g,"rect",{x:332.1,y:1173.2,width:203.9,height:315.6,fill:"#fff",stroke:"#333","stroke-width":0.7},"plot-panel");
  dotGenes.forEach((gn,i)=>{
    txt(g,329,rowY(i)+2.5,gn,7,"y-tick-label",{anchor:"end",fill:"#333"});
    line(g,330,rowY(i),332.1,rowY(i),"#333",0.5,"y-tick");
    mk(g,"circle",{cx:colX[0],cy:rowY(i),r:rad[pvA2[i]],fill:col(corA2[i])},"dot-s100a2-"+gn.toLowerCase());
    mk(g,"circle",{cx:colX[1],cy:rowY(i),r:rad[pvA14[i]],fill:col(corA14[i])},"dot-s100a14-"+gn.toLowerCase());
  });
  ["S100A2","S100A14"].forEach((s,k)=>{
    line(g,colX[k],1488.8,colX[k],1491.5,"#333",0.5,"x-tick");
    txt(g,colX[k]+3,1497,s,7,"x-tick-label",{anchor:"end",rot:-60,fill:"#333"});
  });
  const defs=mk(svg,"defs",{},"defs");
  const lg=mk(defs,"linearGradient",{id:"corgrad",x1:0,y1:1,x2:0,y2:0},"gradient");
  [[0,col(-0.55)],[0.4,"#ffffff"],[0.7,col(0.45)],[1,col(0.787)]].forEach(s=>mk(lg,"stop",{offset:s[0],"stop-color":s[1]},"gradient-stop"));
  mk(g,"rect",{x:550.1,y:1258.9,width:12.6,height:67.1,fill:"url(#corgrad)"},"colorbar");
  txt(g,549.6,1245,"Pearson",7,"legend-title");
  txt(g,549.6,1253.5,"Correlation",7,"legend-title");
  [[0.75,1260.8],[0.5,1273.4],[0.25,1286],[0,1298.6],[-0.25,1311.2],[-0.5,1323.8]].forEach(t=>{
    txt(g,566.8,t[1]+2.5,(t[0]<0?"\u2212":"")+Math.abs(t[0]).toFixed(2),6,"colorbar-label",{fill:"#333"});
  });
  txt(g,549.6,1350,"pv",7,"legend-title-pv");
  ["","*","**","***","****"].forEach((s,k)=>{
    const y=1361.7+k*13.5;
    mk(g,"circle",{cx:556.2,cy:y,r:rad[k]*0.85,fill:"#000"},"pv-legend-dot");
    if(s) txt(g,565,y+2,s,5.5,"pv-legend-label");
  });
  // connecting lines
  const gl=grp("connector-lines");
  line(gl,217,1173.2,colX[0],rowY(16),"#8a2be2",0.8,"connector-ltbp2");
  line(gl,217,1271.1,colX[0],rowY(16),"#8a2be2",0.8,"connector-ltbp2");
  line(gl,colX[1],rowY(8),629.5,1173.2,"#d42010",0.8,"connector-pax6");
  line(gl,colX[1],rowY(8),629.5,1266.2,"#d42010",0.8,"connector-pax6");
})();
(function(){const g=grp("bottom-legend-fragment");
  mk(g,"rect",{x:404.8,y:1559.5,width:10,height:3.5,fill:"#1f7bc8"},"fragment-control");
  line(g,409.8,1556,409.8,1559.5,"#1f7bc8",0.6,"fragment-tick");
  mk(g,"rect",{x:449,y:1559.5,width:10,height:3.5,fill:"#f0c000"},"fragment-poag");
  line(g,454,1556,454,1559.5,"#f0c000",0.6,"fragment-tick");})();

// ---------- network F ----------
(function(){
  const g=grp("panel-f-network");
  const pos=[[704,187],[843,187],[980,215],[1107,271],[1219,352],[1309,454],[1375,571],[1412,698],[1420,830],[1397,961],[1345,1083],[1266,1193],[1165,1284],[1045,1352],[913,1395],[774,1409],[634,1395],[502,1352],[382,1284],[281,1193],[202,1083],[150,961],[127,830],[135,698],[172,571],[236,454],[329,352],[440,271],[568,215]];
  const P=p=>[874.9+p[0]*0.2271,914.6+p[1]*0.2397];
  const hubs=[["S100A2",P([757,622])],["S100A14",P([757,1040])]];
  tfNames.forEach((n,i)=>{const q=P(pos[i]);hubs.forEach(h=>line(g,q[0],q[1],h[1][0],h[1][1],"#8c8c8c",0.55,"edge-"+n.toLowerCase()+"-"+h[0].toLowerCase()));});
  tfNames.forEach((n,i)=>{const q=P(pos[i]);
    mk(g,"circle",{cx:q[0],cy:q[1],r:12.4,fill:"#008a00"},"node-"+n.toLowerCase());
    txt(g,q[0],q[1]+2.3,n,6.6,"node-label-"+n.toLowerCase(),{anchor:"middle",fill:"#111"});});
  hubs.forEach(h=>{
    const pts=[];for(let k=0;k<8;k++){const a=Math.PI/8+k*Math.PI/4;pts.push((h[1][0]+13*Math.cos(a)).toFixed(2)+","+(h[1][1]+13*Math.sin(a)).toFixed(2));}
    mk(g,"polygon",{points:pts.join(" "),fill:"#c8002d"},"hub-node-"+h[0].toLowerCase());
    txt(g,h[1][0],h[1][1]+2.3,h[0],6.6,"hub-label-"+h[0].toLowerCase(),{anchor:"middle",fill:"#111"});
  });
})();
</script>
</body></html>
